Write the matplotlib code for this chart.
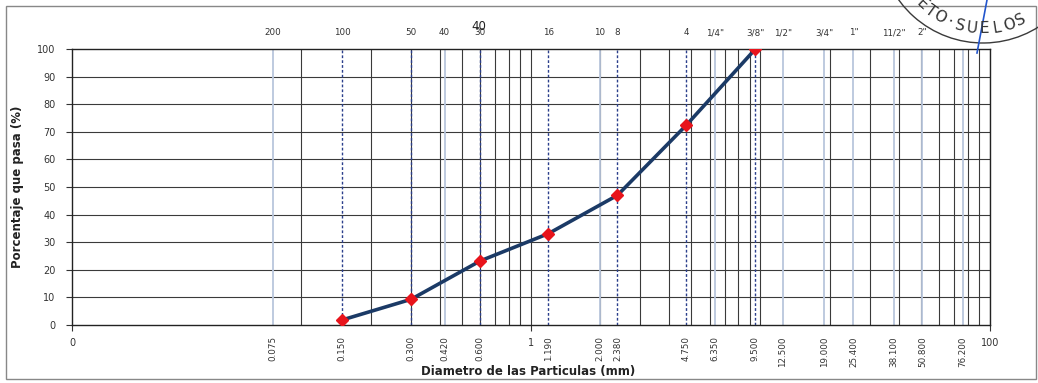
import numpy as np
import matplotlib.pyplot as plt
from matplotlib.patches import Rectangle, Arc

# sieve openings (mm) and their names
sieve_mm = [0.075, 0.150, 0.300, 0.420, 0.600, 1.190, 2.000, 2.380, 4.750,
            6.350, 9.500, 12.500, 19.000, 25.400, 38.100, 50.800, 76.200]
sieve_names = ['200', '100', '50', '40', '30', '16', '10', '8', '4',
               '1/4"', '3/8"', '1/2"', '3/4"', '1"', '11/2"', '2"', '3"']
sieve_labels = ['0.075', '0.150', '0.300', '0.420', '0.600', '1.190', '2.000', '2.380', '4.750',
                '6.350', '9.500', '12.500', '19.000', '25.400', '38.100', '50.800', '76.200']

# measured points
diam = [0.150, 0.300, 0.600, 1.190, 2.380, 4.750, 9.500]
passing = [1.8, 9.3, 23.2, 33.1, 47.0, 72.4, 100.0]

minor_grid = [0.1, 0.2, 0.3, 0.4, 0.5, 0.6, 0.7, 0.8, 0.9,
              1, 2, 3, 4, 5, 6, 7, 8, 9,
              10, 20, 30, 40, 50, 60, 70, 80, 90, 100]

W, H = 1038, 383
fig = plt.figure(figsize=(W / 100, H / 100), dpi=100)
ax = fig.add_axes([72 / W, 1 - 325 / H, 918 / W, 276 / H])

ax.set_xscale('log')
ax.set_xlim(0.01, 100)
ax.set_ylim(0, 100)

for g in minor_grid:
    ax.axvline(g, color='#3a3a3a', lw=0.8, zorder=1)
for yv in range(10, 100, 10):
    ax.axhline(yv, color='#3a3a3a', lw=0.8, zorder=1)

for d in sieve_mm:
    if d in diam:
        ax.axvline(d, color='#2b3f8c', lw=1.0, ls=(0, (2, 1.5)), zorder=2)
    else:
        ax.axvline(d, color='#b9c6dc', lw=1.3, zorder=2)

ax.plot(diam, passing, color='#1b3a66', lw=2.6, zorder=3)
ax.plot(diam, passing, ls='none', marker='D', ms=6, color='#e8141c', zorder=4)

ax.set_yticks(range(0, 101, 10))
ax.set_xticks([0.01, 1, 100])
ax.set_xticklabels(['0', '1', '100'])
ax.xaxis.set_minor_locator(plt.NullLocator())
ax.tick_params(axis='both', labelsize=7, colors='#333333', length=4)
ax.tick_params(axis='x', pad=5)
ax.tick_params(axis='y', pad=8)
for s in ax.spines.values():
    s.set_color('#222222')
    s.set_linewidth(1.0)

trans = ax.get_xaxis_transform()
for d, lab in zip(sieve_mm, sieve_labels):
    ax.text(d, -0.04, lab, transform=trans, rotation=90, ha='center', va='top',
            fontsize=6.3, color='#333333')
for d, nm in zip(sieve_mm, sieve_names):
    if nm == '3"':
        continue
    ax.text(d, 1.058, nm, transform=trans, ha='center', va='center',
            fontsize=6.3, color='#333333')
ax.text(0.59, 1.08, '40', transform=trans, ha='center', va='center',
        fontsize=8.5, color='#222222')

ax.set_ylabel('Porcentaje que pasa (%)', fontsize=8.5, fontweight='bold', color='#222222', labelpad=9)
fig.text(528 / W, 1 - 372 / H, 'Diametro de las Particulas (mm)', ha='center', va='center',
         fontsize=8.5, fontweight='bold', color='#222222')

# outer frame
fig.patches.append(Rectangle((6 / W, 1 - 379 / H), 1030 / W, 373 / H, transform=fig.transFigure,
                             fill=False, edgecolor='#888888', lw=1.0))

# stamp in the top right corner
cx, cy, r = 983, -61, 104
fig.patches.append(Arc((cx / W, 1 - cy / H), 2 * r / W, 2 * r / H, theta1=195, theta2=350,
                       transform=fig.transFigure, color='#3a3a3a', lw=1.0))
letters = ['E', 'T', 'O', '·', 'S', 'U', 'E', 'L', 'O', 'S']
angles = [-43, -36, -29, -22, -15, -7, 1, 9, 17, 25]
for ch, a in zip(letters, angles):
    t = np.radians(a)
    px = cx + 94 * np.sin(t)
    py = cy + 94 * np.cos(t)
    fig.text(px / W, 1 - py / H, ch, rotation=a, ha='center', va='baseline',
             fontsize=11, color='#333333', rotation_mode='anchor')
fig.lines.append(plt.Line2D([987 / W, 977 / W], [1.0, 1 - 53 / H], transform=fig.transFigure,
                            color='#2255cc', lw=1.2))

fig.savefig('out.png', dpi=100)
